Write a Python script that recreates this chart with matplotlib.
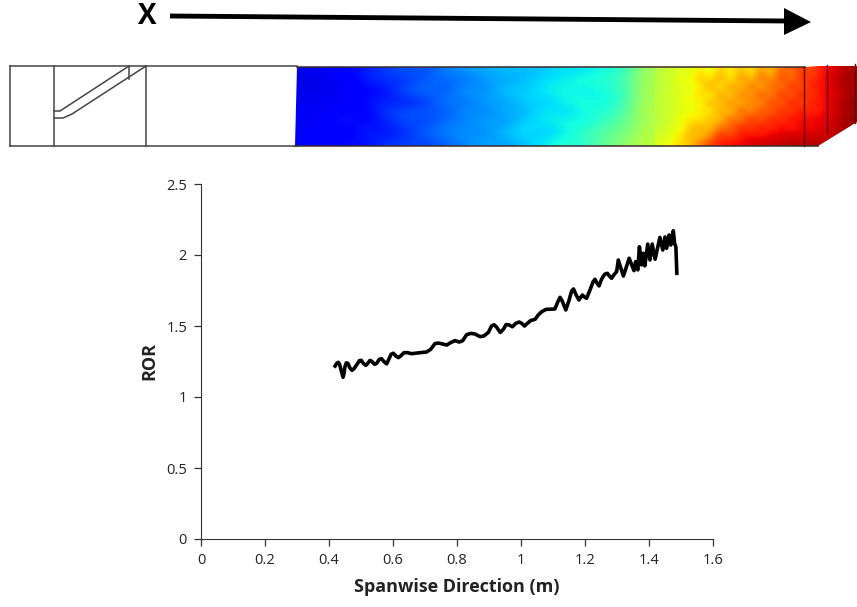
import numpy as np
import matplotlib
matplotlib.use("Agg")
import matplotlib.pyplot as plt
from matplotlib.patches import Polygon

plt.rcParams['font.family'] = ['Open Sans', 'DejaVu Sans']

# curve
span = [.419, .424, .429, .433, .439, .444, .447, .450, .454, .459, .466, .472, .479, .486, .495,
        .501, .507, .515, .521, .528, .534, .542, .549, .557, .564, .572, .580, .586, .594, .601,
        .609, .617, .625, .634, .646, .658, .684, .705, .718, .731, .742, .768, .780, .794, .807,
        .818, .830, .843, .856, .872, .884, .898, .908, .916, .924, .935, .945, .953, .961, .973,
        .984, .994, 1.002, 1.011, 1.020, 1.030, 1.044, 1.054, 1.065, 1.078, 1.106, 1.114, 1.122,
        1.128, 1.140, 1.150, 1.158, 1.164, 1.172, 1.181, 1.186, 1.192, 1.198, 1.205, 1.215, 1.225,
        1.231, 1.238, 1.244, 1.250, 1.255, 1.262, 1.270, 1.277, 1.283, 1.292, 1.299, 1.304, 1.320,
        1.338, 1.353, 1.358, 1.365, 1.370, 1.377, 1.382, 1.387, 1.396, 1.403, 1.410, 1.419, 1.434,
        1.443, 1.450, 1.455, 1.463, 1.468, 1.476, 1.480, 1.484, 1.487]
ror = [1.218, 1.237, 1.244, 1.230, 1.179, 1.139, 1.167, 1.214, 1.240, 1.237, 1.202, 1.188, 1.202,
       1.225, 1.256, 1.258, 1.237, 1.223, 1.237, 1.258, 1.251, 1.230, 1.237, 1.265, 1.270, 1.249,
       1.233, 1.261, 1.301, 1.308, 1.289, 1.277, 1.291, 1.312, 1.312, 1.305, 1.312, 1.317, 1.336,
       1.376, 1.380, 1.366, 1.383, 1.397, 1.387, 1.397, 1.439, 1.448, 1.444, 1.425, 1.430, 1.455,
       1.500, 1.509, 1.491, 1.455, 1.477, 1.509, 1.509, 1.495, 1.519, 1.528, 1.519, 1.500, 1.519,
       1.538, 1.547, 1.578, 1.601, 1.617, 1.620, 1.665, 1.702, 1.680, 1.613, 1.680, 1.745, 1.761,
       1.720, 1.683, 1.700, 1.718, 1.705, 1.695, 1.750, 1.810, 1.829, 1.800, 1.782, 1.820, 1.843,
       1.865, 1.871, 1.850, 1.836, 1.865, 1.883, 1.965, 1.852, 1.977, 1.890, 1.953, 1.895, 2.058,
       1.930, 2.012, 1.923, 2.077, 1.965, 2.077, 1.970, 2.124, 2.035, 2.127, 2.047, 2.141, 2.070,
       2.171, 2.082, 2.056, 1.871]
x_ticks = [0, 0.2, 0.4, 0.6, 0.8, 1, 1.2, 1.4, 1.6]
x_labels = ['0', '0.2', '0.4', '0.6', '0.8', '1', '1.2', '1.4', '1.6']
y_ticks = [0, 0.5, 1, 1.5, 2, 2.5]
y_labels = ['0', '0.5', '1', '1.5', '2', '2.5']

# contour levels estimated by eye, rows top to bottom
contour_left = [
    [.10, .10, .13, .15, .18, .21, .20, .25, .27, .29, .31, .31, .32, .35, .35, .38, .41, .55],
    [.08, .11, .09, .15, .17, .17, .22, .23, .23, .28, .29, .31, .35, .36, .39, .39, .43, .56],
    [.10, .09, .12, .12, .13, .21, .24, .20, .29, .25, .33, .32, .36, .38, .35, .38, .42, .56],
    [.09, .12, .09, .14, .16, .15, .17, .26, .22, .30, .27, .34, .32, .37, .39, .36, .43, .56],
    [.12, .09, .14, .11, .18, .20, .22, .20, .28, .24, .31, .29, .37, .33, .38, .39, .45, .57],
    [.09, .13, .15, .12, .15, .21, .18, .24, .24, .30, .26, .34, .35, .38, .37, .42, .47, .56],
    [.12, .10, .10, .16, .14, .16, .23, .25, .28, .25, .32, .35, .32, .36, .41, .46, .49, .57],
    [.13, .11, .14, .13, .17, .19, .19, .22, .26, .29, .28, .32, .36, .39, .40, .47, .52, .58],
]
contour_right = [
    [.57, .60, .62, .62, .66, .62, .70, .64, .72, .64, .76, .68, .82, .78, .86, .82, .89, .90, .95, .96],
    [.58, .60, .64, .62, .72, .64, .76, .62, .78, .68, .82, .72, .86, .76, .88, .84, .90, .92, .95, .97],
    [.57, .60, .62, .64, .64, .76, .62, .78, .66, .82, .68, .84, .74, .90, .78, .90, .88, .92, .96, .96],
    [.58, .60, .63, .62, .70, .62, .78, .64, .82, .70, .86, .72, .90, .76, .92, .82, .91, .90, .94, .97],
    [.58, .60, .62, .66, .62, .74, .66, .80, .68, .80, .72, .88, .76, .92, .80, .90, .88, .92, .96, .98],
    [.58, .60, .63, .62, .68, .64, .76, .66, .84, .72, .86, .76, .90, .80, .92, .84, .90, .91, .95, .97],
    [.58, .60, .64, .66, .64, .72, .68, .82, .74, .88, .78, .90, .82, .92, .88, .92, .90, .93, .96, .98],
    [.58, .62, .62, .70, .74, .68, .80, .78, .88, .82, .90, .84, .92, .86, .92, .88, .92, .92, .96, .97],
    [.60, .62, .66, .72, .68, .76, .86, .82, .88, .90, .87, .92, .90, .93, .90, .94, .92, .94, .97, .98],
    [.62, .64, .68, .70, .78, .84, .88, .90, .90, .92, .93, .93, .94, .95, .95, .95, .95, .96, .98, .99],
]

# outlines of the schematic, in image pixels
blade_outline = [(297, 67), (805, 67), (830, 65), (857, 64), (857, 122), (818, 146), (295, 146)]
root_lines = [54, 146]
rib_lines = [804, 827, 855]
hole_upper = ([54, 60, 129], [111, 111, 66])
hole_lower = ([54, 63, 72, 146], [118, 118, 114, 66])
hole_cap = ([129, 129], [66, 79])

fig = plt.figure(figsize=(8.57, 6.07), dpi=100)
W, H = 857, 607

top = fig.add_axes([0, 0, 1, 1])
top.axis('off')

# arrow and label
top.plot([170, 786], [16, 21], color='black', lw=3.5, solid_capstyle='butt')
top.add_patch(Polygon([(784, 8), (811, 22), (784, 35)], closed=True, fc='black', ec='none'))
top.text(147, 16, 'X', fontsize=20, fontweight='bold', ha='center', va='center', color='black')

# blade contour
clip = Polygon(blade_outline, closed=True, transform=top.transData, fc='none', ec='none')
top.add_patch(clip)
for levels, extent in [(contour_left, (295, 655, 147, 66)), (contour_right, (655, 857, 147, 66))]:
    img = top.imshow(levels, cmap='jet', vmin=0, vmax=1, extent=extent,
                     aspect='auto', interpolation='bicubic', zorder=1)
    img.set_clip_path(clip)
top.set_xlim(0, W)
top.set_ylim(H, 0)

# schematic lines
line = dict(color='#444444', lw=1.1, zorder=3)
top.plot([10, 297], [66, 66], **line)
top.plot([10, 10], [66, 146], **line)
top.plot([10, 297], [146, 146], **line)
for xv in root_lines:
    top.plot([xv, xv], [66, 146], **line)
top.plot(*hole_upper, **line)
top.plot(*hole_lower, **line)
top.plot(*hole_cap, **line)
top.plot([297, 805], [67, 67], color='#3a2a2a', lw=1.1, zorder=3)
top.plot([295, 818], [146, 146], color='#3a2a2a', lw=1.1, zorder=3)
for xv, y0, y1 in zip(rib_lines, [67, 65, 64], [146, 132, 123]):
    top.plot([xv, xv], [y0, y1], color='#5a0a0a', lw=1.0, zorder=3)

# bottom chart
ax = fig.add_axes([201 / W, 1 - 539 / H, (713 - 201) / W, (539 - 184) / H])
ax.patch.set_alpha(0)
ax.plot(span, ror, color='black', lw=2.6, solid_joinstyle='round')
ax.set_xlim(0, 1.6)
ax.set_ylim(0, 2.5)
ax.set_xticks(x_ticks, x_labels)
ax.set_yticks(y_ticks, y_labels)
ax.tick_params(labelsize=10.5, length=5, width=0.9, color='#333333', labelcolor='#222222', pad=5)
ax.spines['top'].set_visible(False)
ax.spines['right'].set_visible(False)
ax.spines['left'].set_color('#333333')
ax.spines['bottom'].set_color('#333333')
ax.set_xlabel('Spanwise Direction (m)', fontsize=13, fontweight='bold', color='#222222', labelpad=7)
ax.set_ylabel('ROR', fontsize=13, fontweight='bold', color='#222222', labelpad=6)

fig.savefig('out.png', dpi=100)
